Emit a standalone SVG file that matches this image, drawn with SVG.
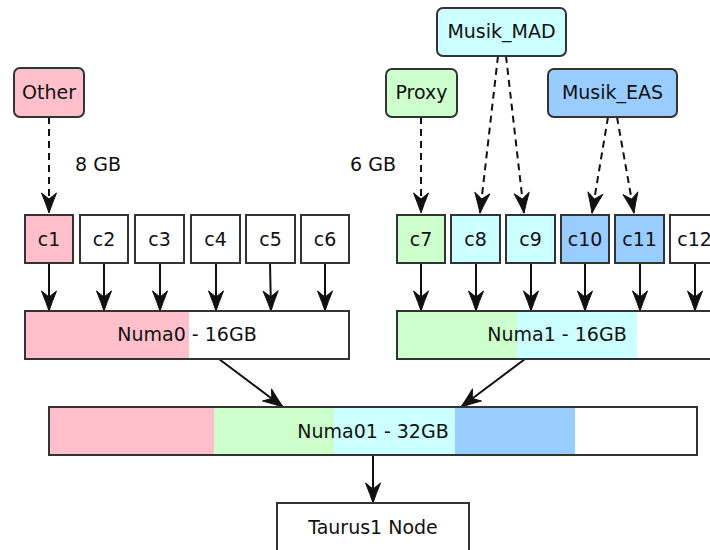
<svg xmlns="http://www.w3.org/2000/svg" width="710" height="550" viewBox="0 0 710 550">
<style>
text{font-family:"DejaVu Sans","Liberation Sans",sans-serif;font-size:19px;fill:#111;text-anchor:middle}
.box{stroke:#333;stroke-width:2}
.seg{stroke:none}
.edge{stroke:#111;stroke-width:2;fill:none}
.dash{stroke-dasharray:7,5}
</style>
<defs>
<marker id="ah" markerUnits="userSpaceOnUse" markerWidth="22" markerHeight="18" refX="20" refY="9" orient="auto" overflow="visible">
<path d="M0,1.5 Q11,6 20,9 Q11,12 0,16.5 L6,9 Z" fill="#111" stroke="#111" stroke-width="1" stroke-linejoin="round"/>
</marker>
</defs>
<rect width="710" height="550" fill="#fff"/>
<g id="edges">
<path class="edge dash" d="M49,117 V213" marker-end="url(#ah)"/>
<path class="edge dash" d="M421,117 V213" marker-end="url(#ah)"/>
<path class="edge dash" d="M498,56 L480,213" marker-end="url(#ah)"/>
<path class="edge dash" d="M506,56 L524,213" marker-end="url(#ah)"/>
<path class="edge dash" d="M608,117 L592,213" marker-end="url(#ah)"/>
<path class="edge dash" d="M617,117 L634,213" marker-end="url(#ah)"/>
<path class="edge" d="M49,263 V311" marker-end="url(#ah)"/>
<path class="edge" d="M104,263 V311" marker-end="url(#ah)"/>
<path class="edge" d="M160,263 V311" marker-end="url(#ah)"/>
<path class="edge" d="M216,263 V311" marker-end="url(#ah)"/>
<path class="edge" d="M270,263 L271,311" marker-end="url(#ah)"/>
<path class="edge" d="M325,263 V311" marker-end="url(#ah)"/>
<path class="edge" d="M421,263 V311" marker-end="url(#ah)"/>
<path class="edge" d="M476,263 V311" marker-end="url(#ah)"/>
<path class="edge" d="M531,263 V311" marker-end="url(#ah)"/>
<path class="edge" d="M585,263 V311" marker-end="url(#ah)"/>
<path class="edge" d="M640,263 V311" marker-end="url(#ah)"/>
<path class="edge" d="M695,263 V311" marker-end="url(#ah)"/>
<path class="edge" d="M219,359 L283,407" marker-end="url(#ah)"/>
<path class="edge" d="M525,359 L461,407" marker-end="url(#ah)"/>
<path class="edge" d="M373,455 V503" marker-end="url(#ah)"/>
</g>
<g id="Other"><rect class="box" x="14" y="68" width="70" height="49" rx="6" fill="#FFC0CB"/><text x="49" y="99">Other</text></g>
<g id="Proxy"><rect class="box" x="386" y="69" width="71" height="48" rx="6" fill="#CCFFCC"/><text x="421.5" y="99">Proxy</text></g>
<g id="Musik_MAD"><rect class="box" x="437" y="8" width="129" height="48" rx="6" fill="#CCFFFF"/><text x="501.5" y="38">Musik_MAD</text></g>
<g id="Musik_EAS"><rect class="box" x="548" y="69" width="129" height="48" rx="6" fill="#99CCFF"/><text x="612.5" y="99">Musik_EAS</text></g>
<g id="label8"><text x="98" y="171">8 GB</text></g>
<g id="label6"><text x="373" y="171">6 GB</text></g>
<g id="c1"><rect class="box" x="25" y="215" width="48" height="48" fill="#FFC0CB"/><text x="49" y="246">c1</text></g>
<g id="c2"><rect class="box" x="80" y="215" width="48" height="48" fill="#fff"/><text x="104" y="246">c2</text></g>
<g id="c3"><rect class="box" x="135" y="215" width="49" height="48" fill="#fff"/><text x="159.5" y="246">c3</text></g>
<g id="c4"><rect class="box" x="191" y="215" width="49" height="48" fill="#fff"/><text x="215.5" y="246">c4</text></g>
<g id="c5"><rect class="box" x="246" y="215" width="49" height="48" fill="#fff"/><text x="270.5" y="246">c5</text></g>
<g id="c6"><rect class="box" x="301" y="215" width="48" height="48" fill="#fff"/><text x="325" y="246">c6</text></g>
<g id="c7"><rect class="box" x="397" y="215" width="48" height="48" fill="#CCFFCC"/><text x="421" y="246">c7</text></g>
<g id="c8"><rect class="box" x="451" y="215" width="49" height="48" fill="#CCFFFF"/><text x="475.5" y="246">c8</text></g>
<g id="c9"><rect class="box" x="506" y="215" width="49" height="48" fill="#CCFFFF"/><text x="530.5" y="246">c9</text></g>
<g id="c10"><rect class="box" x="561" y="215" width="48" height="48" fill="#99CCFF"/><text x="585" y="246">c10</text></g>
<g id="c11"><rect class="box" x="615" y="215" width="49" height="48" fill="#99CCFF"/><text x="639.5" y="246">c11</text></g>
<g id="c12"><rect class="box" x="670" y="215" width="49" height="48" fill="#fff"/><text x="694.5" y="246">c12</text></g>
<g id="Numa0">
<rect x="25" y="311" width="324" height="48" fill="#fff"/>
<rect class="seg" x="25" y="311" width="164" height="48" fill="#FFC0CB"/>
<rect class="box" x="25" y="311" width="324" height="48" fill="none"/>
<text x="187" y="341">Numa0 - 16GB</text>
</g>
<g id="Numa1">
<rect x="397" y="311" width="324" height="48" fill="#fff"/>
<rect class="seg" x="397" y="311" width="120" height="48" fill="#CCFFCC"/>
<rect class="seg" x="517" y="311" width="120" height="48" fill="#CCFFFF"/>
<rect class="box" x="397" y="311" width="324" height="48" fill="none"/>
<text x="557" y="341">Numa1 - 16GB</text>
</g>
<g id="Numa01">
<rect x="49" y="407" width="648" height="48" fill="#fff"/>
<rect class="seg" x="49" y="407" width="165" height="48" fill="#FFC0CB"/>
<rect class="seg" x="214" y="407" width="120" height="48" fill="#CCFFCC"/>
<rect class="seg" x="334" y="407" width="121" height="48" fill="#CCFFFF"/>
<rect class="seg" x="455" y="407" width="120" height="48" fill="#99CCFF"/>
<rect class="box" x="49" y="407" width="648" height="48" fill="none"/>
<text x="373" y="438">Numa01 - 32GB</text>
</g>
<g id="Taurus1"><rect class="box" x="277" y="503" width="192" height="60" fill="#fff"/><text x="373" y="534">Taurus1 Node</text></g>
</svg>
